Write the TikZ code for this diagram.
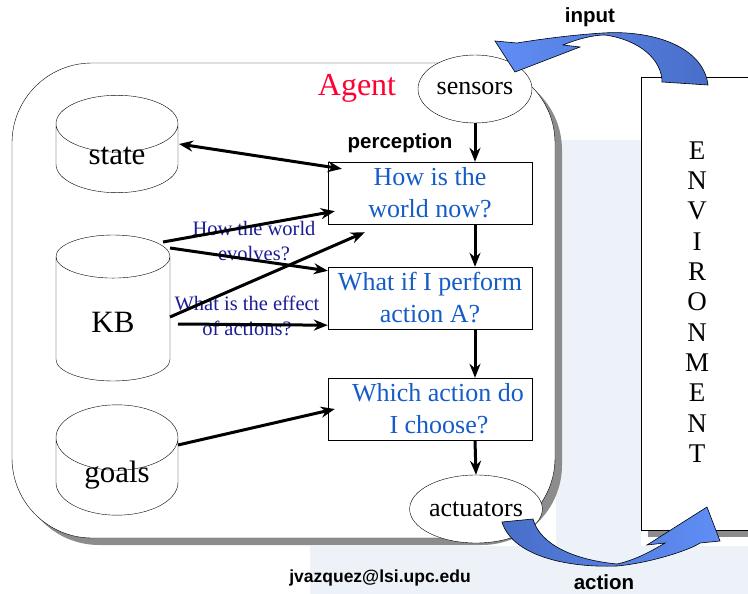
\documentclass[tikz,border=0pt]{standalone}
\usepackage{fontspec}
\setmainfont{Liberation Serif}
\setsansfont{Liberation Sans}
\usetikzlibrary{arrows.meta, calc, positioning, shapes.geometric}
\definecolor{agentred}{RGB}{255,0,51}
\definecolor{qblue}{RGB}{22,92,200}
\definecolor{hintnavy}{RGB}{28,28,150}
\definecolor{shadowgray}{RGB}{140,140,140}
\definecolor{wmark}{RGB}{237,242,248}
\definecolor{arrowlight}{RGB}{96,142,246}
\definecolor{arrowdark}{RGB}{72,110,200}
\tikzset{
  question/.style = {draw, fill=white, minimum width=204pt, minimum height=62pt, inner sep=0pt, align=center, text=qblue, font=\fontsize{26}{32}\selectfont},
  store/.style = {draw, fill=white, cylinder, shape border rotate=90, aspect=1, inner sep=0pt, anchor=shape center, text height=12pt, text depth=0pt, font=\fontsize{31}{36}\selectfont},
  port/.style = {draw, fill=white, ellipse, minimum width=114pt, minimum height=68pt, inner sep=0pt, font=\fontsize{26}{30}\selectfont},
  link/.style = {line width=3pt, -{Stealth[length=14pt, width=11pt]}},
  tag/.style = {font=\sffamily\bfseries\fontsize{20.5}{24}\selectfont},
  hint/.style = {text=hintnavy, align=center, font=\fontsize{20.5}{25}\selectfont},
  bigarrow/.style = {draw=black, line width=0.6pt},
}

\begin{document}
\begin{tikzpicture}[x=1pt, y=-1pt]
  \useasboundingbox (0,0) rectangle (748,594);
  % faint background
  \fill[wmark] (556,140) rectangle (641,594);
  \fill[wmark] (310,546) rectangle (748,594);

  % environment
  \fill[shadowgray] (648,84) rectangle (770,537);
  \draw[fill=white] (641,77) rectangle (770,530);
  \node[align=center, font=\fontsize{27}{30.3}\selectfont] (env) at (697,302) {E\\N\\V\\I\\R\\O\\N\\M\\E\\N\\T};

  % agent
  \fill[shadowgray, rounded corners=80pt] (19,70) rectangle (562,545);
  \draw[fill=white, rounded corners=80pt] (12,63) rectangle (555,538);
  \node[text=agentred, font=\fontsize{32}{36}\selectfont] (agent) at (357,88) {Agent};

  \path (475,89) node[port] (sensors) {sensors}
    (476,509) node[port] (actuators) {actuators}
    (430,193) node[question] (how) {How is the\\world now?}
    (430,298) node[question] (whatif) {What if I perform\\action A?}
    (430,409) node[question] (which) {\hspace*{16pt}Which action do\\\hspace*{18pt}I choose?};

  \path (117,144) node[store, minimum width=122pt, minimum height=96pt] (state) {state}
    (113,308) node[store, minimum width=114pt, minimum height=146pt, text height=28pt] (kb) {KB}
    (117,460) node[store, minimum width=122pt, minimum height=96pt] (goals) {goals};

  \node[tag] (perc) at (400,143) {perception};
  \node[tag] (input) at (590,17) {input};
  \node[tag] (action) at (604,582) {action};
  \node[font=\sffamily\bfseries\fontsize{17.5}{20}\selectfont] (mail) at (380,578) {jvazquez@lsi.upc.edu};

  \node[hint] (evolves) at (254,241) {How the world\\evolves?};
  \node[hint] (effect) at (247,316) {What is the effect\\of actions?};

  % flow inside the agent
  \draw[link] (sensors.south) -- (sensors.south |- how.north);
  \draw[link] (sensors.south |- how.south) -- (sensors.south |- whatif.north);
  \draw[link] (sensors.south |- whatif.south) -- (sensors.south |- which.north);
  \draw[link] (sensors.south |- which.south) -- (actuators.north);

  \draw[link, {Stealth[length=14pt, width=11pt]}-{Stealth[length=14pt, width=11pt]}] ($(state.shape center)+(62,0)$) -- ($(how.north west)+(14,7)$);
  \draw[link] ($(kb.shape center)+(50,-66)$) -- ($(how.south west)+(7,-13)$);
  \draw[link] ($(kb.shape center)+(57,-60)$) -- ($(whatif.north west)+(0,4)$);
  \draw[link] ($(kb.shape center)+(57,9)$) -- ($(how.south west)+(37,8)$);
  \draw[link] ($(kb.shape center)+(65,16)$) -- ($(whatif.south west)+(0,-4)$);
  \draw[link] ($(goals.shape center)+(61,-15)$) -- ($(which.west)+(7,0)$);

  % input and action
  \shadedraw[bigarrow, left color=arrowlight, right color=arrowdark]
    (708,85) .. controls (703,45) and (650,30) .. (603,33)
    .. controls (570,35) and (535,40) .. (517,43) -- (495,41) -- (515,72) -- (580,47) -- (563,45)
    .. controls (580,38) and (595,35) .. (605,35) .. controls (640,40) and (662,60) .. (662,82) -- cycle;
  \shadedraw[bigarrow, left color=arrowdark, right color=arrowlight]
    (502,522) .. controls (512,555) and (565,568) .. (617,566)
    .. controls (650,563) and (690,550) .. (700,543) -- (720,541) -- (707,507) -- (647,545) -- (665,543)
    .. controls (650,552) and (635,560) .. (617,564) .. controls (575,560) and (540,545) .. (533,519) -- cycle;
\end{tikzpicture}
\end{document}
